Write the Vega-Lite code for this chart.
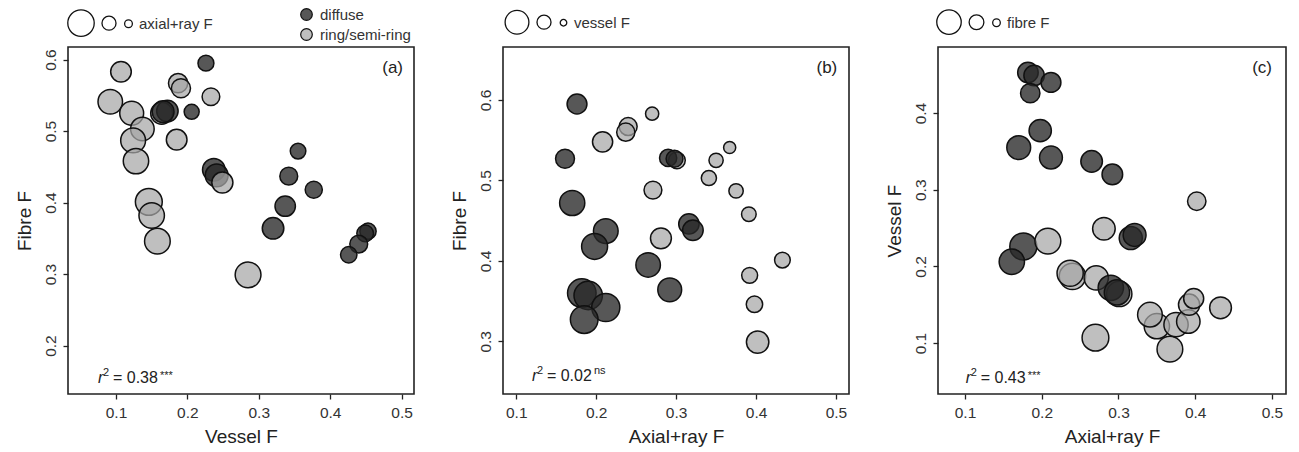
{
  "$schema": "https://vega.github.io/schema/vega-lite/v6.json",
  "background": "white",
  "padding": {"left": 14, "top": 6, "right": 0, "bottom": 0},
  "datasets": {
    "wood": [
      {"group": "ring/semi-ring", "vessel": 0.107, "fibre": 0.583, "axial": 0.270},
      {"group": "ring/semi-ring", "vessel": 0.187, "fibre": 0.567, "axial": 0.240},
      {"group": "ring/semi-ring", "vessel": 0.191, "fibre": 0.560, "axial": 0.237},
      {"group": "ring/semi-ring", "vessel": 0.092, "fibre": 0.541, "axial": 0.367},
      {"group": "ring/semi-ring", "vessel": 0.122, "fibre": 0.525, "axial": 0.350},
      {"group": "ring/semi-ring", "vessel": 0.137, "fibre": 0.503, "axial": 0.341},
      {"group": "ring/semi-ring", "vessel": 0.124, "fibre": 0.487, "axial": 0.375},
      {"group": "ring/semi-ring", "vessel": 0.185, "fibre": 0.488, "axial": 0.271},
      {"group": "ring/semi-ring", "vessel": 0.128, "fibre": 0.458, "axial": 0.391},
      {"group": "ring/semi-ring", "vessel": 0.146, "fibre": 0.401, "axial": 0.433},
      {"group": "ring/semi-ring", "vessel": 0.150, "fibre": 0.382, "axial": 0.392},
      {"group": "ring/semi-ring", "vessel": 0.158, "fibre": 0.346, "axial": 0.398},
      {"group": "ring/semi-ring", "vessel": 0.285, "fibre": 0.299, "axial": 0.402},
      {"group": "ring/semi-ring", "vessel": 0.164, "fibre": 0.525, "axial": 0.301},
      {"group": "diffuse", "vessel": 0.226, "fibre": 0.595, "axial": 0.176},
      {"group": "diffuse", "vessel": 0.206, "fibre": 0.527, "axial": 0.161},
      {"group": "diffuse", "vessel": 0.172, "fibre": 0.528, "axial": 0.290},
      {"group": "diffuse", "vessel": 0.166, "fibre": 0.527, "axial": 0.298},
      {"group": "diffuse", "vessel": 0.237, "fibre": 0.446, "axial": 0.316},
      {"group": "diffuse", "vessel": 0.241, "fibre": 0.438, "axial": 0.321},
      {"group": "diffuse", "vessel": 0.355, "fibre": 0.472, "axial": 0.170},
      {"group": "diffuse", "vessel": 0.342, "fibre": 0.437, "axial": 0.212},
      {"group": "diffuse", "vessel": 0.377, "fibre": 0.418, "axial": 0.198},
      {"group": "diffuse", "vessel": 0.337, "fibre": 0.395, "axial": 0.265},
      {"group": "diffuse", "vessel": 0.320, "fibre": 0.364, "axial": 0.292},
      {"group": "diffuse", "vessel": 0.453, "fibre": 0.360, "axial": 0.182},
      {"group": "diffuse", "vessel": 0.449, "fibre": 0.357, "axial": 0.190},
      {"group": "diffuse", "vessel": 0.440, "fibre": 0.342, "axial": 0.212},
      {"group": "diffuse", "vessel": 0.426, "fibre": 0.327, "axial": 0.185},
      {"group": "ring/semi-ring", "vessel": 0.233, "fibre": 0.548, "axial": 0.208},
      {"group": "ring/semi-ring", "vessel": 0.249, "fibre": 0.428, "axial": 0.281}
    ]
  },
  "data": {"name": "wood"},
  "spacing": 34,
  "resolve": {
    "scale": {"x": "independent", "y": "independent", "size": "independent", "color": "independent"},
    "legend": {"size": "independent", "color": "independent"}
  },
  "hconcat": [
    {
      "width": 346,
      "height": 347,
      "layer": [
        {
          "mark": {"type": "circle", "opacity": 1, "stroke": "#111", "strokeWidth": 1.5},
          "encoding": {
            "x": {"field": "vessel", "type": "quantitative", "title": "Vessel F",
                  "scale": {"domain": [0.0328, 0.5174], "nice": false, "zero": false},
                  "axis": {"values": [0.1, 0.2, 0.3, 0.4, 0.5], "format": ".1f"}},
            "y": {"field": "fibre", "type": "quantitative", "title": "Fibre F",
                  "scale": {"domain": [0.1323, 0.6176], "nice": false, "zero": false},
                  "axis": {"values": [0.2, 0.3, 0.4, 0.5, 0.6], "format": ".1f"}},
            "size": {"field": "axial", "type": "quantitative",
                     "scale": {"domain": [0.07, 0.4], "range": [60, 662], "zero": false},
                     "legend": {"orient": "none", "legendX": -1, "legendY": -38, "direction": "horizontal",
                                "values": [0.42, 0.145, 0.07], "title": null,
                                "labelExpr": "datum.value < 0.1 ? 'axial+ray F' : ''",
                                "symbolFillColor": "transparent", "symbolStrokeColor": "#111",
                                "symbolStrokeWidth": 1.3, "symbolOpacity": 1,
                                "columnPadding": 1, "labelOffset": 3}},
            "color": {"field": "group", "type": "nominal",
                      "scale": {"domain": ["diffuse", "ring/semi-ring"],
                                "range": ["rgba(40,40,40,0.78)", "rgba(166,166,166,0.72)"]},
                      "legend": {"orient": "none", "legendX": 231, "legendY": -40, "direction": "vertical",
                                 "title": null, "symbolType": "circle", "symbolSize": 135,
                                 "symbolStrokeColor": "#111", "symbolStrokeWidth": 1.2, "symbolOpacity": 1,
                                 "rowPadding": 3, "labelOffset": 6}}
          }
        },
        {"data": {"values": [{}]}, "mark": {"type": "text", "align": "right", "baseline": "alphabetic", "fontSize": 17},
         "encoding": {"x": {"datum": 0.502}, "y": {"datum": 0.581}, "text": {"value": "(a)"}}},
        {"data": {"values": [{}]}, "mark": {"type": "text", "align": "left", "baseline": "alphabetic", "fontSize": 16, "fontStyle": "italic"},
         "encoding": {"x": {"datum": 0.0748}, "y": {"datum": 0.147}, "text": {"value": "r"}}},
        {"data": {"values": [{}]}, "mark": {"type": "text", "align": "left", "baseline": "alphabetic", "fontSize": 11, "dx": 5, "dy": -7},
         "encoding": {"x": {"datum": 0.0748}, "y": {"datum": 0.147}, "text": {"value": "2"}}},
        {"data": {"values": [{}]}, "mark": {"type": "text", "align": "left", "baseline": "alphabetic", "fontSize": 16, "dx": 15},
         "encoding": {"x": {"datum": 0.0748}, "y": {"datum": 0.147}, "text": {"value": "= 0.38"}}},
        {"data": {"values": [{}]}, "mark": {"type": "text", "align": "left", "baseline": "alphabetic", "fontSize": 11, "dx": 62, "dy": -4},
         "encoding": {"x": {"datum": 0.0748}, "y": {"datum": 0.147}, "text": {"value": "***"}}}
      ]
    },
    {
      "width": 346,
      "height": 347,
      "layer": [
        {
          "mark": {"type": "circle", "opacity": 1, "stroke": "#111", "strokeWidth": 1.5},
          "encoding": {
            "x": {"field": "axial", "type": "quantitative", "title": "Axial+ray F",
                  "scale": {"domain": [0.0834, 0.5163], "nice": false, "zero": false},
                  "axis": {"values": [0.1, 0.2, 0.3, 0.4, 0.5], "format": ".1f"}},
            "y": {"field": "fibre", "type": "quantitative", "title": "Fibre F",
                  "scale": {"domain": [0.2345, 0.6659], "nice": false, "zero": false},
                  "axis": {"values": [0.3, 0.4, 0.5, 0.6], "format": ".1f"}},
            "size": {"field": "vessel", "type": "quantitative",
                     "scale": {"domain": [0.036, 0.318], "range": [43, 565], "zero": false},
                     "legend": {"orient": "none", "legendX": 1, "legendY": -38, "direction": "horizontal",
                                "values": [0.318, 0.119, 0.036], "title": null,
                                "labelExpr": "datum.value < 0.05 ? 'vessel F' : ''",
                                "symbolFillColor": "transparent", "symbolStrokeColor": "#111",
                                "symbolStrokeWidth": 1.3, "symbolOpacity": 1,
                                "columnPadding": 1, "labelOffset": 3}},
            "color": {"field": "group", "type": "nominal",
                      "scale": {"domain": ["diffuse", "ring/semi-ring"],
                                "range": ["rgba(40,40,40,0.78)", "rgba(166,166,166,0.72)"]},
                      "legend": null}
          }
        },
        {"data": {"values": [{}]}, "mark": {"type": "text", "align": "right", "baseline": "alphabetic", "fontSize": 17},
         "encoding": {"x": {"datum": 0.5016}, "y": {"datum": 0.6336}, "text": {"value": "(b)"}}},
        {"data": {"values": [{}]}, "mark": {"type": "text", "align": "left", "baseline": "alphabetic", "fontSize": 16, "fontStyle": "italic"},
         "encoding": {"x": {"datum": 0.1196}, "y": {"datum": 0.2502}, "text": {"value": "r"}}},
        {"data": {"values": [{}]}, "mark": {"type": "text", "align": "left", "baseline": "alphabetic", "fontSize": 11, "dx": 5, "dy": -7},
         "encoding": {"x": {"datum": 0.1196}, "y": {"datum": 0.2502}, "text": {"value": "2"}}},
        {"data": {"values": [{}]}, "mark": {"type": "text", "align": "left", "baseline": "alphabetic", "fontSize": 16, "dx": 15},
         "encoding": {"x": {"datum": 0.1196}, "y": {"datum": 0.2502}, "text": {"value": "= 0.02"}}},
        {"data": {"values": [{}]}, "mark": {"type": "text", "align": "left", "baseline": "alphabetic", "fontSize": 11, "dx": 62, "dy": -7},
         "encoding": {"x": {"datum": 0.1196}, "y": {"datum": 0.2502}, "text": {"value": "ns"}}}
      ]
    },
    {
      "width": 348,
      "height": 347,
      "layer": [
        {
          "mark": {"type": "circle", "opacity": 1, "stroke": "#111", "strokeWidth": 1.5},
          "encoding": {
            "x": {"field": "axial", "type": "quantitative", "title": "Axial+ray F",
                  "scale": {"domain": [0.0648, 0.5183], "nice": false, "zero": false},
                  "axis": {"values": [0.1, 0.2, 0.3, 0.4, 0.5], "format": ".1f"}},
            "y": {"field": "vessel", "type": "quantitative", "title": "Vessel F",
                  "scale": {"domain": [0.0335, 0.4862], "nice": false, "zero": false},
                  "axis": {"values": [0.1, 0.2, 0.3, 0.4], "format": ".1f"}},
            "size": {"field": "fibre", "type": "quantitative",
                     "scale": {"domain": [0.088, 0.495], "range": [58, 599], "zero": false},
                     "legend": {"orient": "none", "legendX": -2, "legendY": -38, "direction": "horizontal",
                                "values": [0.495, 0.208, 0.088], "title": null,
                                "labelExpr": "datum.value < 0.1 ? 'fibre F' : ''",
                                "symbolFillColor": "transparent", "symbolStrokeColor": "#111",
                                "symbolStrokeWidth": 1.3, "symbolOpacity": 1,
                                "columnPadding": 1, "labelOffset": 3}},
            "color": {"field": "group", "type": "nominal",
                      "scale": {"domain": ["diffuse", "ring/semi-ring"],
                                "range": ["rgba(40,40,40,0.78)", "rgba(166,166,166,0.72)"]},
                      "legend": null}
          }
        },
        {"data": {"values": [{}]}, "mark": {"type": "text", "align": "right", "baseline": "alphabetic", "fontSize": 17},
         "encoding": {"x": {"datum": 0.5}, "y": {"datum": 0.452}, "text": {"value": "(c)"}}},
        {"data": {"values": [{}]}, "mark": {"type": "text", "align": "left", "baseline": "alphabetic", "fontSize": 16, "fontStyle": "italic"},
         "encoding": {"x": {"datum": 0.1009}, "y": {"datum": 0.0474}, "text": {"value": "r"}}},
        {"data": {"values": [{}]}, "mark": {"type": "text", "align": "left", "baseline": "alphabetic", "fontSize": 11, "dx": 5, "dy": -7},
         "encoding": {"x": {"datum": 0.1009}, "y": {"datum": 0.0474}, "text": {"value": "2"}}},
        {"data": {"values": [{}]}, "mark": {"type": "text", "align": "left", "baseline": "alphabetic", "fontSize": 16, "dx": 15},
         "encoding": {"x": {"datum": 0.1009}, "y": {"datum": 0.0474}, "text": {"value": "= 0.43"}}},
        {"data": {"values": [{}]}, "mark": {"type": "text", "align": "left", "baseline": "alphabetic", "fontSize": 11, "dx": 62, "dy": -4},
         "encoding": {"x": {"datum": 0.1009}, "y": {"datum": 0.0474}, "text": {"value": "***"}}}
      ]
    }
  ],
  "config": {
    "font": "Liberation Sans",
    "view": {"stroke": "#222", "strokeWidth": 1.6},
    "axis": {"domain": false, "grid": false, "tickSize": 5, "tickColor": "#222", "tickWidth": 1.3,
             "labelFontSize": 15.5, "labelColor": "#333", "labelPadding": 6, "labelFlush": false, "labelOverlap": false,
             "titleFontSize": 19, "titleFontWeight": "normal", "titleColor": "#222", "titlePadding": 7},
    "axisY": {"labelAngle": 270, "labelAlign": "center", "labelBaseline": "alphabetic", "labelPadding": 8, "titlePadding": 9},
    "legend": {"labelFontSize": 15, "labelColor": "#333", "labelFont": "Liberation Sans"},
    "text": {"color": "#222", "font": "Liberation Sans"}
  }
}
